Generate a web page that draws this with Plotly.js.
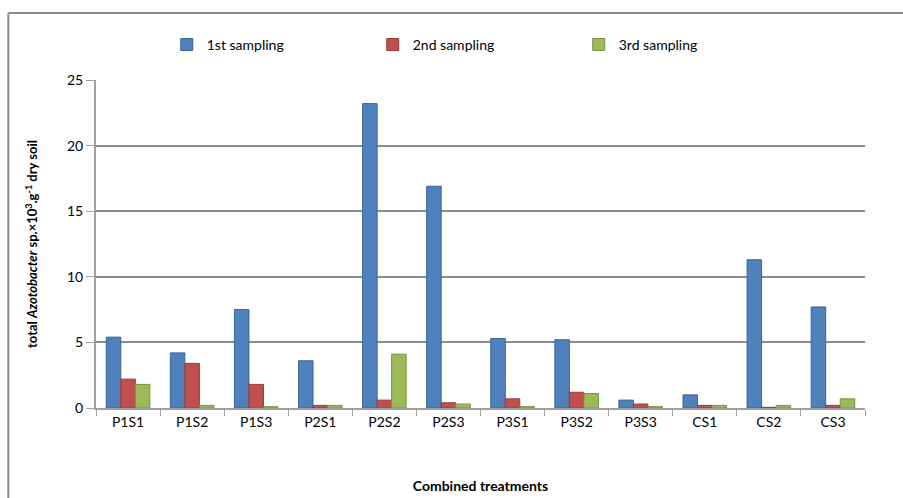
<!DOCTYPE html>
<html>
<head>
<meta charset="utf-8">
<script src="https://cdn.plot.ly/plotly-3.0.1.min.js"></script>
<style>
html,body{margin:0;padding:0;background:#fff;}
#chart{width:903px;height:498px;}
</style>
</head>
<body>
<div id="chart"></div>
<script>
const categories = ["P1S1","P1S2","P1S3","P2S1","P2S2","P2S3","P3S1","P3S2","P3S3","CS1","CS2","CS3"];
const sampling1 = [5.4, 4.2, 7.5, 3.6, 23.2, 16.9, 5.3, 5.2, 0.6, 1.0, 11.3, 7.7];
const sampling2 = [2.2, 3.4, 1.8, 0.2, 0.6, 0.4, 0.7, 1.2, 0.3, 0.2, 0.05, 0.2];
const sampling3 = [1.8, 0.2, 0.1, 0.2, 4.1, 0.3, 0.1, 1.1, 0.1, 0.2, 0.2, 0.7];
const seriesNames = ["1st sampling","2nd sampling","3rd sampling"];
const yTicks = [0,5,10,15,20,25];

const colors = ["#4F81BD","#C0504D","#9BBB59"];
const lines = ["#3A6494","#963C3A","#77923F"];
const data = [sampling1, sampling2, sampling3].map((v,i)=>({
  type:'bar', x:categories, y:v, name:seriesNames[i],
  marker:{color:colors[i], line:{color:lines[i], width:1}}
}));

const layout = {
  width:903, height:498,
  paper_bgcolor:'#fff', plot_bgcolor:'#fff',
  margin:{l:96, r:38, t:80, b:90, autoexpand:false},
  font:{family:'Lato, "Open Sans", sans-serif', size:14, color:'#000'},
  barmode:'group', bargap:0.32, bargroupgap:0.0,
  showlegend:true,
  legend:{orientation:'h', x:0.092, xanchor:'left', y:1.107, yanchor:'middle',
          font:{size:14}, traceorder:'normal', entrywidth:161, itemwidth:30},
  xaxis:{
    showline:true, linecolor:'#A0A0A0', linewidth:2,
    ticks:'outside', ticklen:6, tickcolor:'#A0A0A0', tickson:'boundaries',
    tickfont:{size:14}, showgrid:false,
    title:{text:'<b>Combined treatments</b>', font:{size:14}, standoff:52}
  },
  yaxis:{
    range:[0,25], tickvals:yTicks,
    showline:true, linecolor:'#A0A0A0', linewidth:2,
    ticks:'outside', ticklen:8, tickcolor:'#A0A0A0',
    showgrid:true, gridcolor:'#8C8C8C', gridwidth:2,
    zeroline:false, tickfont:{size:14},
    title:{text:'<b>total <i>Azotobacter</i> sp.×10<sup>3</sup>.g<sup>-1</sup> dry soil</b>', font:{size:13}, standoff:26}
  },
  shapes:[
    {type:'line', xref:'paper', yref:'paper', x0:-0.114, x1:1.1, y0:1.204, y1:1.204, line:{color:'#8C8C8C', width:2}},
    {type:'line', xref:'paper', yref:'paper', x0:-0.114, x1:-0.114, y0:1.204, y1:-0.3, line:{color:'#8C8C8C', width:2}}
  ]
};
Plotly.newPlot('chart', data, layout, {displayModeBar:false, staticPlot:true});
</script>
</body>
</html>
